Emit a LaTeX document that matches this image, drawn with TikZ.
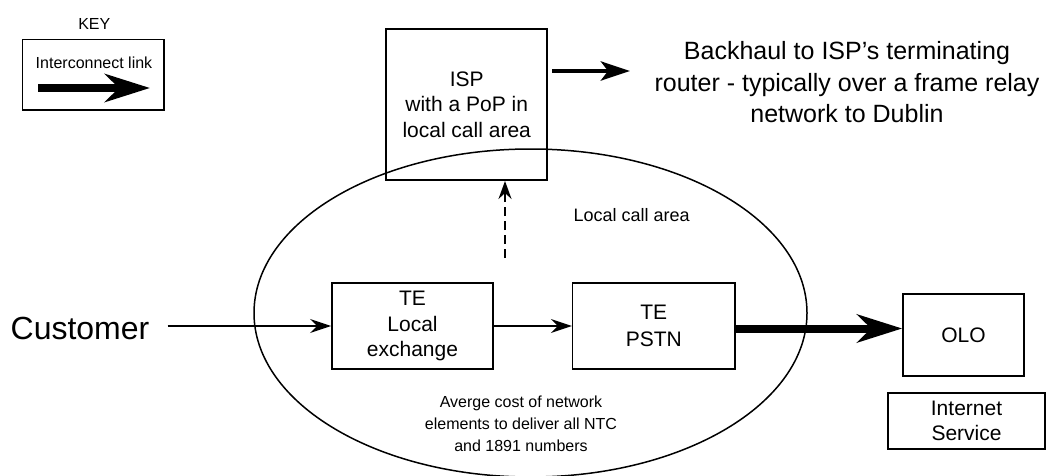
\documentclass[tikz,border=0pt]{standalone}
\usepackage{fontspec}
\setmainfont{Liberation Sans}
\usetikzlibrary{arrows.meta,calc}

\newcommand\fsz[2]{\fontsize{#1}{#2}\selectfont}

\begin{document}
\begin{tikzpicture}[x=1pt,y=-1pt,
  box/.style={draw, line width=1.6pt, inner sep=0pt, align=center},
  lbl/.style={inner sep=0pt, align=center},
  thin/.style={line width=1.4pt, -{Stealth[length=21pt,width=14pt,inset=7pt]}},
  link/.style={line width=8pt, -{Stealth[length=45pt,width=28pt,inset=14pt]}},
  backhaul/.style={line width=4.7pt, -{Stealth[length=29pt,width=19pt,inset=7pt]}},
  dashlink/.style={line width=2pt, dash pattern=on 9pt off 5pt,
    -{Stealth[length=18pt,width=13pt,inset=6pt]}}]

\path[use as bounding box] (0,0) rectangle (1046,476);

% local call area
\draw[line width=1.5pt] (530.5,313) ellipse [x radius=276.5pt, y radius=164pt];

% key
\node[lbl, font=\fsz{16}{19}] (keytitle) at (94.3,24) {KEY};
\node[box, minimum width=141.7pt, minimum height=70.7pt] (keybox) at (93.2,74.7) {};
\node[lbl, font=\fsz{16}{19}] (keytext) at (94,62.7) {Interconnect link};
\coordinate (keyA) at (38.3,88);
\coordinate (keyB) at (150,88);
\draw[link] (keyA) -- (keyB);

% ISP box and backhaul
\node[box, minimum width=161pt, minimum height=151pt, font=\fsz{21}{25.7}] (isp)
  at (466.7,104.7) {ISP\\with a PoP in\\local call area};
\coordinate (bhend) at (630,71);
\draw[backhaul] ($(isp.east |- bhend)+(4,0)$) -- (bhend);
\node[lbl, font=\fsz{25}{31.5}] (bhtext) at (847,82.4)
  {Backhaul to ISP’s terminating\\router - typically over a frame relay\\network to Dublin};

\node[lbl, font=\fsz{18}{21}] (areatext) at (631.7,215) {Local call area};

% dashed link up to the ISP
\coordinate (dstart) at (505,258);
\draw[dashlink] (dstart) -- (dstart |- isp.south);

% main chain
\node[lbl, font=\fsz{32}{38}, anchor=base] (cust) at (80,339.3) {Customer};
\node[box, minimum width=161.3pt, minimum height=86pt, font=\fsz{21}{25.5}] (le)
  at (412.5,326) {TE\\Local\\exchange};
\node[box, minimum width=162.3pt, minimum height=86pt, font=\fsz{21}{26.3}] (pstn)
  at (653.8,326) {TE\\PSTN};
\node[box, minimum width=121pt, minimum height=82pt, font=\fsz{21}{25}] (olo)
  at (963.5,335) {OLO};
\node[box, minimum width=157pt, minimum height=56pt, font=\fsz{21}{25.6}] (inet)
  at (966.5,421) {Internet\\Service};

\draw[thin] ($(cust.east |- le.west)+(18,0)$) -- (le.west);
\draw[thin] (le.east) -- (pstn.west);
\coordinate (pout) at ($(pstn.east)+(0,2.5)$);
\draw[link] (pout) -- (pout -| olo.west);

\node[lbl, font=\fsz{16}{22}] (cost) at (521,424)
  {Averge cost of network\\elements to deliver all NTC\\and 1891 numbers};
\end{tikzpicture}
\end{document}
